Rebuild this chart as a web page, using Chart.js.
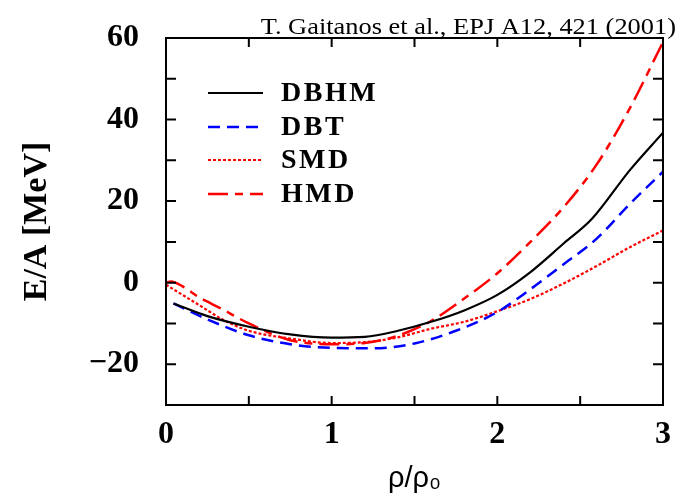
<!DOCTYPE html>
<html>
<head>
<meta charset="utf-8">
<script src="https://cdn.jsdelivr.net/npm/chart.js@4.4.1/dist/chart.umd.min.js"></script>
<style>
  html, body { margin: 0; padding: 0; background: #fff; }
  #wrap { width: 685px; height: 504px; position: relative; }
</style>
</head>
<body>
<div id="wrap"><canvas id="eosChart"></canvas></div>
<script>
// E/A vs rho/rho0
const dbhmRho = [0.045, 0.25, 0.5, 0.75, 1.0, 1.2, 1.4, 1.6, 1.8, 2.0, 2.2, 2.4, 2.57, 2.8, 3.0];
const dbhmE   = [-5.1, -8.2, -10.8, -12.7, -13.5, -13.3, -11.8, -9.6, -6.8, -3.0, 2.6, 9.6, 15.6, 27.6, 36.8];

const dbtRho = [0.045, 0.25, 0.5, 0.75, 1.0, 1.25, 1.5, 1.75, 2.0, 2.2, 2.4, 2.6, 2.8, 3.0];
const dbtE   = [-5.1, -9.0, -12.9, -15.1, -16.0, -16.1, -14.9, -11.8, -7.2, -1.6, 4.5, 10.8, 19.3, 27.2];

const smdRho = [0.0, 0.1, 0.2, 0.35, 0.5, 0.75, 1.0, 1.2, 1.4, 1.6, 1.8, 2.0, 2.2, 2.4, 2.6, 2.8, 3.0];
const smdE   = [-0.5, -3.0, -5.5, -9.2, -11.8, -13.7, -14.8, -14.6, -13.4, -11.3, -9.6, -7.0, -4.0, -0.2, 4.1, 8.7, 12.8];

const hmdRho = [0.0, 0.03, 0.1, 0.2, 0.33, 0.5, 0.75, 1.0, 1.2, 1.4, 1.6, 1.8, 2.0, 2.2, 2.4, 2.6, 2.8, 3.0];
const hmdE   = [0.0, 0.3, -0.9, -3.6, -6.3, -10.0, -14.1, -15.1, -14.8, -13.0, -9.4, -3.9, 2.3, 10.0, 18.5, 29.0, 42.8, 59.0];

const seriesNames = ['DBHM', 'DBT', 'SMD', 'HMD'];
const citation = 'T. Gaitanos et al., EPJ A12, 421 (2001)';

function toPoints(xs, ys) {
    return xs.map((x, i) => ({ x: x, y: ys[i] }));
}

function fmtTick(v) {
    if (v % 20 !== 0) return '';
    return v < 0 ? '\u2212' + Math.abs(v) : String(v);
}

// inward ticks on all four sides, box frame, legend and citation
const framePlugin = {
    id: 'frame',
    afterDatasetsDraw(chart) {
        const ctx = chart.ctx;
        const a = chart.chartArea;
        const xs = chart.scales.x, ys = chart.scales.y;
        ctx.save();
        ctx.strokeStyle = '#000';
        ctx.lineWidth = 2;
        ctx.strokeRect(a.left, a.top, a.right - a.left, a.bottom - a.top);

        ctx.beginPath();
        xs.ticks.forEach(t => {
            const px = xs.getPixelForValue(t.value);
            ctx.moveTo(px, a.bottom); ctx.lineTo(px, a.bottom - 9);
            ctx.moveTo(px, a.top); ctx.lineTo(px, a.top + 9);
        });
        ys.ticks.forEach(t => {
            const py = ys.getPixelForValue(t.value);
            ctx.moveTo(a.left, py); ctx.lineTo(a.left + 10, py);
            ctx.moveTo(a.right, py); ctx.lineTo(a.right - 10, py);
        });
        ctx.stroke();

        // legend
        const legY = [93, 127, 160, 194];
        chart.data.datasets.forEach((ds, i) => {
            ctx.save();
            ctx.strokeStyle = ds.borderColor;
            ctx.lineWidth = ds.borderWidth;
            ctx.setLineDash(ds.borderDash || []);
            ctx.beginPath();
            ctx.moveTo(208, legY[i]);
            ctx.lineTo(263, legY[i]);
            ctx.stroke();
            ctx.restore();
            ctx.fillStyle = '#000';
            ctx.font = 'bold 28px "Liberation Serif", serif';
            ctx.letterSpacing = '2.5px';
            ctx.textAlign = 'left';
            ctx.textBaseline = 'middle';
            ctx.fillText(ds.label, 281, legY[i] + 1);
        });

        // citation, slightly wide like the original print
        ctx.letterSpacing = '0px';
        ctx.font = '24px "Liberation Serif", serif';
        ctx.textAlign = 'right';
        ctx.textBaseline = 'alphabetic';
        ctx.fillStyle = '#000';
        ctx.translate(676, 34);
        ctx.scale(1.1, 1);
        ctx.fillText(citation, 0, 0);
        ctx.restore();
    }
};

const ctx = document.getElementById('eosChart').getContext('2d');
const eosChart = new Chart(ctx, {
    type: 'line',
    data: {
        datasets: [
            { label: seriesNames[0], data: toPoints(dbhmRho, dbhmE), borderColor: '#000000', borderWidth: 2.2 },
            { label: seriesNames[1], data: toPoints(dbtRho, dbtE), borderColor: '#0000ff', borderWidth: 2.5, borderDash: [12, 7] },
            { label: seriesNames[2], data: toPoints(smdRho, smdE), borderColor: '#ff0000', borderWidth: 2.2, borderDash: [3, 2] },
            { label: seriesNames[3], data: toPoints(hmdRho, hmdE), borderColor: '#ff0000', borderWidth: 2.5, borderDash: [20, 7, 8, 7] }
        ]
    },
    options: {
        responsive: true,
        maintainAspectRatio: false,
        animation: false,
        layout: { padding: { top: 38, right: 22, left: 0, bottom: 0 } },
        elements: {
            point: { radius: 0 },
            line: { cubicInterpolationMode: 'monotone', fill: false }
        },
        plugins: {
            legend: { display: false },
            tooltip: { enabled: false }
        },
        scales: {
            x: {
                type: 'linear',
                min: 0, max: 3,
                grid: { display: false, drawTicks: false },
                border: { display: false },
                ticks: {
                    stepSize: 0.5,
                    autoSkip: false,
                    padding: 11,
                    color: '#000',
                    maxRotation: 0,
                    font: { family: '"Liberation Serif", serif', weight: 'bold', size: 32 },
                    callback: v => Number.isInteger(v) ? String(v) : ''
                },
                title: {
                    display: true,
                    text: 'ρ/ρ₀',
                    color: '#000',
                    font: { family: '"Liberation Sans", "DejaVu Sans", sans-serif', size: 29 },
                    padding: { top: 0, bottom: 8 }
                },
                afterFit: s => { s.height = 99; s.paddingLeft = 0; s.paddingRight = 0; }
            },
            y: {
                min: -30, max: 60,
                grid: { display: false, drawTicks: false },
                border: { display: false },
                ticks: {
                    stepSize: 10,
                    autoSkip: false,
                    padding: 27,
                    color: '#000',
                    font: { family: '"Liberation Serif", serif', weight: 'bold', size: 32 },
                    callback: v => fmtTick(v)
                },
                title: {
                    display: true,
                    text: 'E/A [MeV]',
                    color: '#000',
                    font: { family: '"Liberation Serif", serif', weight: 'bold', size: 34 },
                    padding: { top: 17, bottom: 0 }
                },
                afterFit: s => { s.width = 166; s.paddingTop = 0; s.paddingBottom = 0; }
            }
        }
    },
    plugins: [framePlugin]
});
</script>
</body>
</html>
